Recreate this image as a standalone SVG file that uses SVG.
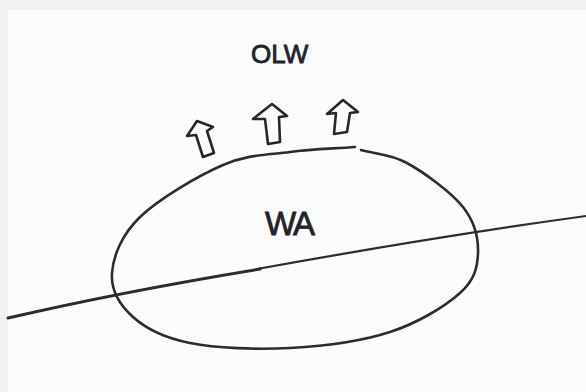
<svg xmlns="http://www.w3.org/2000/svg" width="586" height="392" viewBox="0 0 586 392">
  <style>
    .ink { fill: none; stroke: #2a2c33; stroke-linecap: round; stroke-linejoin: round; }
    .arrow { fill: #fdfdfd; stroke: #25272d; stroke-width: 2.6; stroke-linejoin: round; stroke-linecap: round; }
    .label { font-family: "Liberation Sans", "DejaVu Sans", sans-serif; fill: #222329; stroke: #222329; stroke-width: 0.8; }
  </style>
  <rect x="0" y="0" width="586" height="392" fill="#f1f1f1"/>
  <rect x="8" y="10" width="578" height="382" fill="#fcfcfc"/>

  <g id="connectors">
    <path class="ink" d="M 8 318 Q 120 292, 260 269" stroke-width="3"/>
    <path class="ink" d="M 257 269 Q 440 236, 586 216" stroke="#4a5163" stroke-width="2.2"/>
  </g>

  <g id="wa">
    <path class="ink" stroke-width="2.6" d="M 361 150 C 376.3 154.3, 390 153.5, 407 163 C 424 172.5, 451.2 192, 463 207 C 474.8 222, 478.5 238.7, 478 253 C 477.5 267.3, 474.7 279.8, 460 293 C 445.3 306.2, 418.3 322.8, 390 332 C 361.7 341.2, 323.3 346.2, 290 348 C 256.7 349.8, 216.2 348.2, 190 343 C 163.8 337.8, 146 328.7, 133 317 C 120 305.3, 110.8 289.7, 112 273 C 113.2 256.3, 121.5 235, 140 217 C 158.5 199, 198 175.8, 223 165 C 248 154.2, 268 155, 290 152 C 312 149, 333.3 148.7, 355 147"/>
    <text class="label" x="265" y="235" font-size="33" letter-spacing="-2">WA</text>
  </g>

  <g id="arrows">
    <path class="arrow" d="M 197 121 L 213 127 L 207 131 L 214 153 L 203 157 L 196 135 L 187 136 Z"/>
    <path class="arrow" d="M 272 104 L 287 116 L 279 117 L 280 142 L 268 144 L 265 119 L 253 119 Z"/>
    <path class="arrow" d="M 343 100 L 358 112 L 350 113 L 347 132 L 334 134 L 336 113 L 327 114 Z"/>
  </g>

  <g id="olw">
    <text class="label" x="251" y="63" font-size="26">OLW</text>
  </g>
</svg>
